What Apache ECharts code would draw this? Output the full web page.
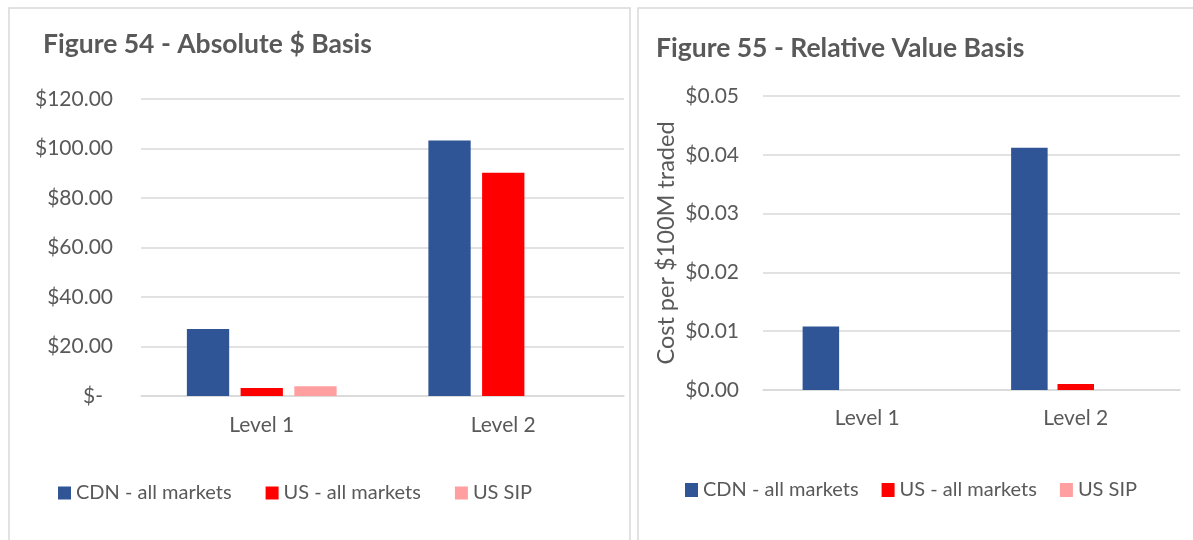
<!DOCTYPE html>
<html>
<head>
<meta charset="utf-8">
<script src="https://cdn.jsdelivr.net/npm/echarts@6/dist/echarts.min.js"></script>
<style>
  html, body { margin: 0; padding: 0; background: #fff; }
  #chart { width: 1193px; height: 540px; }
</style>
</head>
<body>
<div id="chart"></div>
<script>
// Categories and series shared by both panels
const categories = ['Level 1', 'Level 2'];
const seriesNames = ['CDN - all markets', 'US - all markets', 'US SIP'];
const seriesColors = ['#2F5597', '#FF0000', '#FF9F9F'];

// Figure 54: absolute dollar cost
const absCdn = [27.1, 103.2];
const absUs = [3.2, 90.2];
const absSip = [3.9, null];

// Figure 55: cost per $100M traded
const relCdn = [0.0108, 0.0412];
const relUs = [0, 0.001];
const relSip = [0, null];

const absTicks = { min: 0, max: 120, interval: 20 };
const relTicks = { min: 0, max: 0.05, interval: 0.01 };

const FONT = 'Lato, "Open Sans", sans-serif';
const TXT = '#595959';
const GRID = '#D9D9D9';

function barSeries(name, data, color, xi, yi) {
  return {
    name, type: 'bar', data,
    xAxisIndex: xi, yAxisIndex: yi,
    barGap: '27%', barCategoryGap: '38%',
    itemStyle: { color },
    emphasis: { disabled: true },
    animation: false
  };
}

const chart = echarts.init(document.getElementById('chart'), null, { renderer: 'canvas' });

function xAxisFor(gridIndex, margin) {
  return {
    type: 'category', data: categories, gridIndex,
    axisTick: { show: false },
    axisLine: { lineStyle: { color: GRID, width: 1.5 } },
    axisLabel: { color: TXT, fontFamily: FONT, fontSize: 21, margin }
  };
}

const option = {
  animation: false,
  textStyle: { fontFamily: FONT },
  graphic: [
    { type: 'rect', shape: { x: 9, y: 8, width: 621, height: 560 },
      style: { fill: 'none', stroke: '#D9D9D9', lineWidth: 1.5 }, silent: true },
    { type: 'rect', shape: { x: 638, y: 8, width: 600, height: 560 },
      style: { fill: 'none', stroke: '#D9D9D9', lineWidth: 1.5 }, silent: true }
  ],
  title: [
    { text: 'Figure 54 - Absolute $ Basis', left: 38, top: 26,
      textStyle: { color: TXT, fontFamily: FONT, fontWeight: 'bold', fontSize: 26.5 } },
    { text: 'Figure 55 - Relative Value Basis', left: 651, top: 30,
      textStyle: { color: TXT, fontFamily: FONT, fontWeight: 'bold', fontSize: 26.5 } }
  ],
  legend: [
    { data: seriesNames, left: 53, top: 478, itemWidth: 13, itemHeight: 13, itemGap: 34,
      icon: 'rect', textStyle: { color: TXT, fontFamily: FONT, fontSize: 20 },
      selectedMode: false },
    { data: seriesNames.map(n => ({ name: n })), left: 680, top: 475, itemWidth: 13, itemHeight: 14, itemGap: 23,
      icon: 'rect', textStyle: { color: TXT, fontFamily: FONT, fontSize: 20 },
      selectedMode: false }
  ],
  grid: [
    { left: 141, top: 99, width: 483, height: 297 },
    { left: 763, top: 96, width: 417, height: 294 }
  ],
  xAxis: [xAxisFor(0, 19), xAxisFor(1, 18)],
  yAxis: [
    {
      type: 'value', gridIndex: 0,
      min: absTicks.min, max: absTicks.max, interval: absTicks.interval,
      axisLine: { show: false }, axisTick: { show: false },
      splitLine: { lineStyle: { color: GRID, width: 1.5 } },
      axisLabel: {
        color: TXT, fontFamily: FONT, fontSize: 21, margin: 28,
        formatter: v => v === 0 ? '{d|$-}' : '$' + v.toFixed(2),
        rich: { d: { color: TXT, fontFamily: FONT, fontSize: 21, padding: [0, 10, 0, 0] } }
      }
    },
    {
      type: 'value', gridIndex: 1,
      min: relTicks.min, max: relTicks.max, interval: relTicks.interval,
      axisLine: { show: false }, axisTick: { show: false },
      splitLine: { lineStyle: { color: GRID, width: 1.5 } },
      name: 'Cost per $100M traded', nameLocation: 'middle', nameGap: 85,
      nameTextStyle: { color: TXT, fontFamily: FONT, fontSize: 23.5 },
      axisLabel: {
        color: TXT, fontFamily: FONT, fontSize: 21, margin: 24,
        formatter: v => '$' + v.toFixed(2)
      }
    }
  ],
  series: [
    barSeries(seriesNames[0], absCdn, seriesColors[0], 0, 0),
    barSeries(seriesNames[1], absUs, seriesColors[1], 0, 0),
    barSeries(seriesNames[2], absSip, seriesColors[2], 0, 0),
    barSeries(seriesNames[0], relCdn, seriesColors[0], 1, 1),
    barSeries(seriesNames[1], relUs, seriesColors[1], 1, 1),
    barSeries(seriesNames[2], relSip, seriesColors[2], 1, 1)
  ]
};

chart.setOption(option);
</script>
</body>
</html>
